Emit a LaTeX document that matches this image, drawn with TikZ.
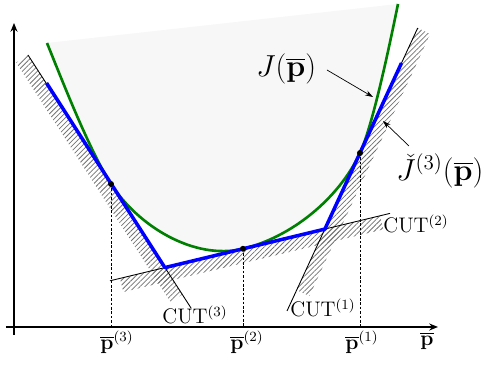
\documentclass[tikz,border=0pt]{standalone}
\usepackage{amsmath}
\usetikzlibrary{arrows.meta,patterns.meta}
\tikzset{
  cutline/.style={black, line width=0.5pt},
  band/.style={pattern={Lines[angle=45,distance=2pt,line width=0.45pt]}, pattern color=black!55},
  proj/.style={dash pattern=on 1.5pt off 1pt, line width=0.5pt},
  jcurve/.style={green!50!black, line width=1.5pt},
  cutplane/.style={blue, line width=2pt, line join=round},
  dot/.style={circle, fill=black, inner sep=0pt, minimum size=0.12cm},
  lab/.style={font=\large, inner sep=0pt},
  biglab/.style={font=\LARGE, inner sep=0pt},
  axis/.style={line width=0.8pt, -{Stealth[length=5pt,width=4pt]}},
  note/.style={line width=0.4pt, -{Stealth[length=4.5pt,width=3pt]}}
}
\begin{document}
\begin{tikzpicture}[x=0.02cm,y=-0.02cm]
\useasboundingbox (0,0) rectangle (495,367);
% key coordinates
\coordinate (O) at (14,327);
\coordinate (xs) at (6,327);
\coordinate (xe) at (438,327);
\coordinate (ys) at (14,335);
\coordinate (ye) at (14,23);
\coordinate (A3) at (28,55);
\coordinate (B3) at (191,308);
\coordinate (A2) at (110,280.8);
\coordinate (B2) at (390,213.4);
\coordinate (A1) at (287,311);
\coordinate (B1) at (417.7,28);
\coordinate (k32) at (164.9,267.6);
\coordinate (k21) at (324.9,229.1);
\coordinate (bs) at (46.5,83);
\coordinate (be) at (401.5,63);
\coordinate (p3) at (111,184);
\coordinate (p2) at (243,248.8);
\coordinate (p1) at (360,153);
\coordinate (js) at (47,43);
\coordinate (je) at (398,4);
% feasible (epigraph) region
\fill[black!3] (js) .. controls (62,80) and (89.3,150.4) .. (p3)
  .. controls (138,226) and (194,260.5) .. (p2)
  .. controls (291.6,237.1) and (339,198.4) .. (p1)
  .. controls (372.6,125.8) and (389,48) .. (je) -- cycle;
% hatched half-spaces
\fill[band] (A3) -- (182.3,294.5) -- (170.5,302) -- (16.2,62.6) -- cycle;
\fill[band] (120,278.4) -- (380,215.8) -- (383.3,229.4) -- (123.3,292) -- cycle;
\fill[band] (296.6,290.1) -- (B1) -- (430.4,33.9) -- (309.4,296) -- cycle;
% cuts
\draw[cutline] (A3) -- (B3);
\draw[cutline] (A2) -- (B2);
\draw[cutline] (A1) -- (B1);
% projections
\draw[proj] (p3) -- (p3 |- O);
\draw[proj] (p2) -- (p2 |- O);
\draw[proj] (p1) -- (p1 |- O);
% J curve
\draw[jcurve] (js) .. controls (62,80) and (89.3,150.4) .. (p3)
  .. controls (138,226) and (194,260.5) .. (p2)
  .. controls (291.6,237.1) and (339,198.4) .. (p1)
  .. controls (372.6,125.8) and (389,48) .. (je);
% cutting-plane model
\draw[cutplane] (bs) -- (k32) -- (k21) -- (be);
% points
\node[dot] (d3) at (p3) {};
\node[dot] (d2) at (p2) {};
\node[dot] (d1) at (p1) {};
% axes
\draw[axis] (xs) -- (xe);
\draw[axis] (ys) -- (ye);
% labels
\node[lab, anchor=north west] (l3) at (100,331) {$\overline{\mathbf{p}}^{(3)}$};
\node[lab, anchor=north west] (l2) at (230,331) {$\overline{\mathbf{p}}^{(2)}$};
\node[lab, anchor=north west] (l1) at (345,331) {$\overline{\mathbf{p}}^{(1)}$};
\node[lab, anchor=north west] (lp) at (420,332) {$\overline{\mathbf{p}}$};
\node[lab, anchor=base west] (c3) at (162,324) {CUT$^{(3)}$};
\node[lab, anchor=base west] (c2) at (383,233) {CUT$^{(2)}$};
\node[lab, anchor=base west] (c1) at (290,317) {CUT$^{(1)}$};
\node[biglab, anchor=base west] (jl) at (256,77) {$J(\overline{\mathbf{p}})$};
\node[inner sep=0pt, anchor=base west, font=\fontsize{18.3}{21}\selectfont] (jc) at (396,181) {$\check{J}^{(3)}(\overline{\mathbf{p}})$};
% annotation arrows
\coordinate (ja) at (327,70);
\coordinate (jt) at (373,97);
\coordinate (ca) at (409,146);
\coordinate (ct) at (383,121);
\draw[note] (ja) -- (jt);
\draw[note] (ca) -- (ct);
\end{tikzpicture}
\end{document}
